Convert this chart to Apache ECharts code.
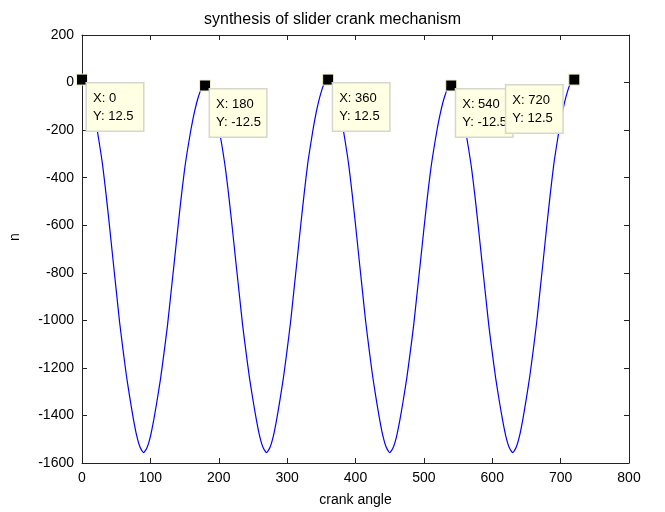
<!DOCTYPE html>
<html>
<head>
<meta charset="utf-8">
<script src="https://cdn.jsdelivr.net/npm/echarts@6/dist/echarts.min.js"></script>
<style>
  html, body { margin: 0; padding: 0; background: #fff; }
  #chart { width: 665px; height: 512px; }
</style>
</head>
<body>
<div id="chart"></div>
<script>
// crank angle samples (deg)
var crankAngle = [
  0, 5, 10, 15, 20, 25, 30, 35, 40, 45, 50, 55, 60, 65, 70, 75, 80, 85, 90, 95,
  100, 105, 110, 115, 120, 125, 130, 135, 140, 145, 150, 155, 160, 165, 170, 175, 180, 185, 190, 195,
  200, 205, 210, 215, 220, 225, 230, 235, 240, 245, 250, 255, 260, 265, 270, 275, 280, 285, 290, 295,
  300, 305, 310, 315, 320, 325, 330, 335, 340, 345, 350, 355, 360, 365, 370, 375, 380, 385, 390, 395,
  400, 405, 410, 415, 420, 425, 430, 435, 440, 445, 450, 455, 460, 465, 470, 475, 480, 485, 490, 495,
  500, 505, 510, 515, 520, 525, 530, 535, 540, 545, 550, 555, 560, 565, 570, 575, 580, 585, 590, 595,
  600, 605, 610, 615, 620, 625, 630, 635, 640, 645, 650, 655, 660, 665, 670, 675, 680, 685, 690, 695,
  700, 705, 710, 715, 720
]
// n
var nValues = [
  12.5, 0, -38, -93, -163, -249, -344, -465, -597, -736, -872, -1008, -1124, -1233, -1326, -1412, -1485, -1534, -1556, -1536,
  -1489, -1418, -1334, -1243, -1136, -1022, -888, -754, -617, -485, -366, -271, -187, -117, -62, -24, -12.5, -24, -62, -117,
  -187, -271, -366, -485, -617, -754, -888, -1022, -1136, -1243, -1334, -1418, -1489, -1536, -1556, -1534, -1485, -1412, -1326, -1233,
  -1124, -1008, -872, -736, -597, -465, -344, -249, -163, -93, -38, 0, 12.5, 0, -38, -93, -163, -249, -344, -465,
  -597, -736, -872, -1008, -1124, -1233, -1326, -1412, -1485, -1534, -1556, -1536, -1489, -1418, -1334, -1243, -1136, -1022, -888, -754,
  -617, -485, -366, -271, -187, -117, -62, -24, -12.5, -24, -62, -117, -187, -271, -366, -485, -617, -754, -888, -1022,
  -1136, -1243, -1334, -1418, -1489, -1536, -1556, -1534, -1485, -1412, -1326, -1233, -1124, -1008, -872, -736, -597, -465, -344, -249,
  -163, -93, -38, 0, 12.5
]
// data tips
var tipX = [0, 180, 360, 540, 720]
var tipY = [12.5, -12.5, 12.5, -12.5, 12.5]

var chart = echarts.init(document.getElementById('chart'))

var lineData = crankAngle.map(function (a, i) { return [a, nValues[i]] })
var tipData = tipX.map(function (x, i) {
  var item = { value: [x, tipY[i]] }
  // last tip sits to the left of its point
  if (i === tipX.length - 1) item.label = { position: [-62, 12] }
  return item
})

var font = 'Liberation Sans, Arial, sans-serif'
var axisCommon = {
  min: 0,
  max: 800,
  interval: 100,
  axisLine: { onZero: false, lineStyle: { color: '#222', width: 1 } },
  axisTick: { inside: true, length: 5, lineStyle: { color: '#222' } },
  splitLine: { show: false }
}
var plainLabel = function (v) { return String(v) }

var option = {
  backgroundColor: '#fff',
  animation: false,
  title: {
    text: 'synthesis of slider crank mechanism',
    left: 'center',
    top: 7,
    textStyle: { fontSize: 16, fontWeight: 'normal', color: '#000', fontFamily: font }
  },
  grid: { left: 81, right: 36, top: 35, bottom: 47 },
  xAxis: [
    Object.assign({}, axisCommon, {
      type: 'value',
      position: 'bottom',
      name: 'crank angle',
      nameLocation: 'middle',
      nameGap: 30,
      nameTextStyle: { fontSize: 14, color: '#000', fontFamily: font },
      axisLabel: { fontSize: 14, color: '#000', fontFamily: font, margin: 8, formatter: plainLabel }
    }),
    Object.assign({}, axisCommon, {
      type: 'value',
      position: 'top',
      axisLabel: { show: false }
    })
  ],
  yAxis: [
    Object.assign({}, axisCommon, {
      type: 'value',
      min: -1600,
      max: 200,
      interval: 200,
      position: 'left',
      name: 'n',
      nameLocation: 'middle',
      nameGap: 60,
      nameTextStyle: { fontSize: 14, color: '#000', fontFamily: font, padding: [0, 0, 0, 24] },
      axisLabel: { fontSize: 14, color: '#000', fontFamily: font, margin: 8, formatter: plainLabel }
    }),
    Object.assign({}, axisCommon, {
      type: 'value',
      min: -1600,
      max: 200,
      interval: 200,
      position: 'right',
      axisLabel: { show: false }
    })
  ],
  series: [
    {
      type: 'line',
      data: lineData,
      showSymbol: false,
      smooth: 0.2,
      lineStyle: { color: '#0000ff', width: 1.2 },
      z: 2
    },
    {
      type: 'scatter',
      data: tipData,
      symbol: 'rect',
      symbolSize: 11,
      itemStyle: { color: '#000', opacity: 1, borderColor: '#f6f2c8', borderWidth: 1 },
      z: 5,
      label: {
        show: true,
        position: [11, 10],
        formatter: function (p) { return 'X: ' + p.value[0] + '\nY: ' + p.value[1] },
        fontSize: 13,
        fontFamily: font,
        color: '#000',
        lineHeight: 18,
        width: 45,
        align: 'left',
        backgroundColor: '#ffffe3',
        borderColor: '#d6d6cc',
        borderWidth: 1.5,
        padding: [6, 5, 5, 6]
      }
    }
  ]
}

chart.setOption(option)
</script>
</body>
</html>
